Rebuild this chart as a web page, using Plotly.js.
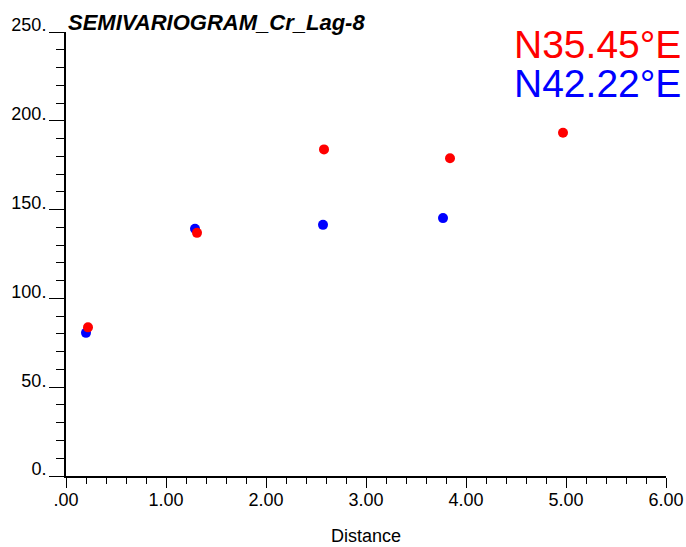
<!DOCTYPE html>
<html>
<head>
<meta charset="utf-8">
<script src="https://cdn.plot.ly/plotly-3.0.1.min.js"></script>
<style>html,body{margin:0;padding:0;background:#fff}#chart{width:686px;height:547px}</style>
</head>
<body>
<div id="chart"></div>
<script>
const chartTitle = "SEMIVARIOGRAM_Cr_Lag-8";
const xTitle = "Distance";
const seriesRedName = "N35.45°E";
const seriesBlueName = "N42.22°E";
const redX = [0.22, 1.31, 2.58, 3.84, 4.97];
const redY = [83.7, 136.9, 183.9, 178.9, 193.3];
const blueX = [0.20, 1.29, 2.57, 3.77];
const blueY = [80.6, 139.2, 141.4, 145.2];
const xTickVals = [0, 1, 2, 3, 4, 5, 6];
const xTickText = [".00", "1.00", "2.00", "3.00", "4.00", "5.00", "6.00"];
const yTickVals = [0, 50, 100, 150, 200, 250];
const yTickText = ["0.", "50.", "100.", "150.", "200.", "250."];

const data = [
  {x: blueX, y: blueY, type: "scatter", mode: "markers", name: seriesBlueName,
   marker: {color: "#0000ff", size: 10}},
  {x: redX, y: redY, type: "scatter", mode: "markers", name: seriesRedName,
   marker: {color: "#ff0000", size: 10}}
];

const layout = {
  width: 686, height: 547,
  margin: {l: 66, r: 20, t: 32, b: 71},
  paper_bgcolor: "#fff", plot_bgcolor: "#fff",
  showlegend: false,
  font: {family: "Liberation Sans, Arial, sans-serif", color: "#000"},
  xaxis: {
    range: [0, 6], showgrid: false, zeroline: false,
    showline: true, linecolor: "#000", linewidth: 2,
    tickmode: "array", tickvals: xTickVals, ticktext: xTickText,
    ticks: "outside", ticklen: 10, tickwidth: 1, tickcolor: "#000",
    tickfont: {size: 18}, ticklabelstandoff: -4,
    minor: {dtick: 0.2, ticks: "outside", ticklen: 6, tickwidth: 1, tickcolor: "#000"},
    title: {text: xTitle, font: {size: 18}, standoff: 21}
  },
  yaxis: {
    range: [0, 250], showgrid: false, zeroline: false,
    showline: true, linecolor: "#000", linewidth: 2,
    tickmode: "array", tickvals: yTickVals, ticktext: yTickText,
    ticks: "outside", ticklen: 15, tickwidth: 1, tickcolor: "#000",
    tickfont: {size: 18}, ticklabelstandoff: -1, ticklabelshift: -7,
    minor: {dtick: 10, ticks: "outside", ticklen: 8, tickwidth: 1, tickcolor: "#000"}
  },
  annotations: [
    {text: "<b><i>" + chartTitle + "</i></b>", xref: "paper", yref: "paper",
     x: 0, y: 1, xanchor: "left", yanchor: "bottom", showarrow: false,
     font: {size: 22, color: "#000"}, yshift: -5},
    {text: seriesRedName, xref: "paper", yref: "paper", x: 1, y: 1,
     xanchor: "right", yanchor: "middle", showarrow: false, xshift: 17, yshift: -12,
     font: {size: 39, color: "#ff0000"}},
    {text: seriesBlueName, xref: "paper", yref: "paper", x: 1, y: 1,
     xanchor: "right", yanchor: "middle", showarrow: false, xshift: 17, yshift: -51,
     font: {size: 39, color: "#0000ff"}}
  ]
};

Plotly.newPlot("chart", data, layout, {displayModeBar: false, staticPlot: true});
</script>
</body>
</html>
